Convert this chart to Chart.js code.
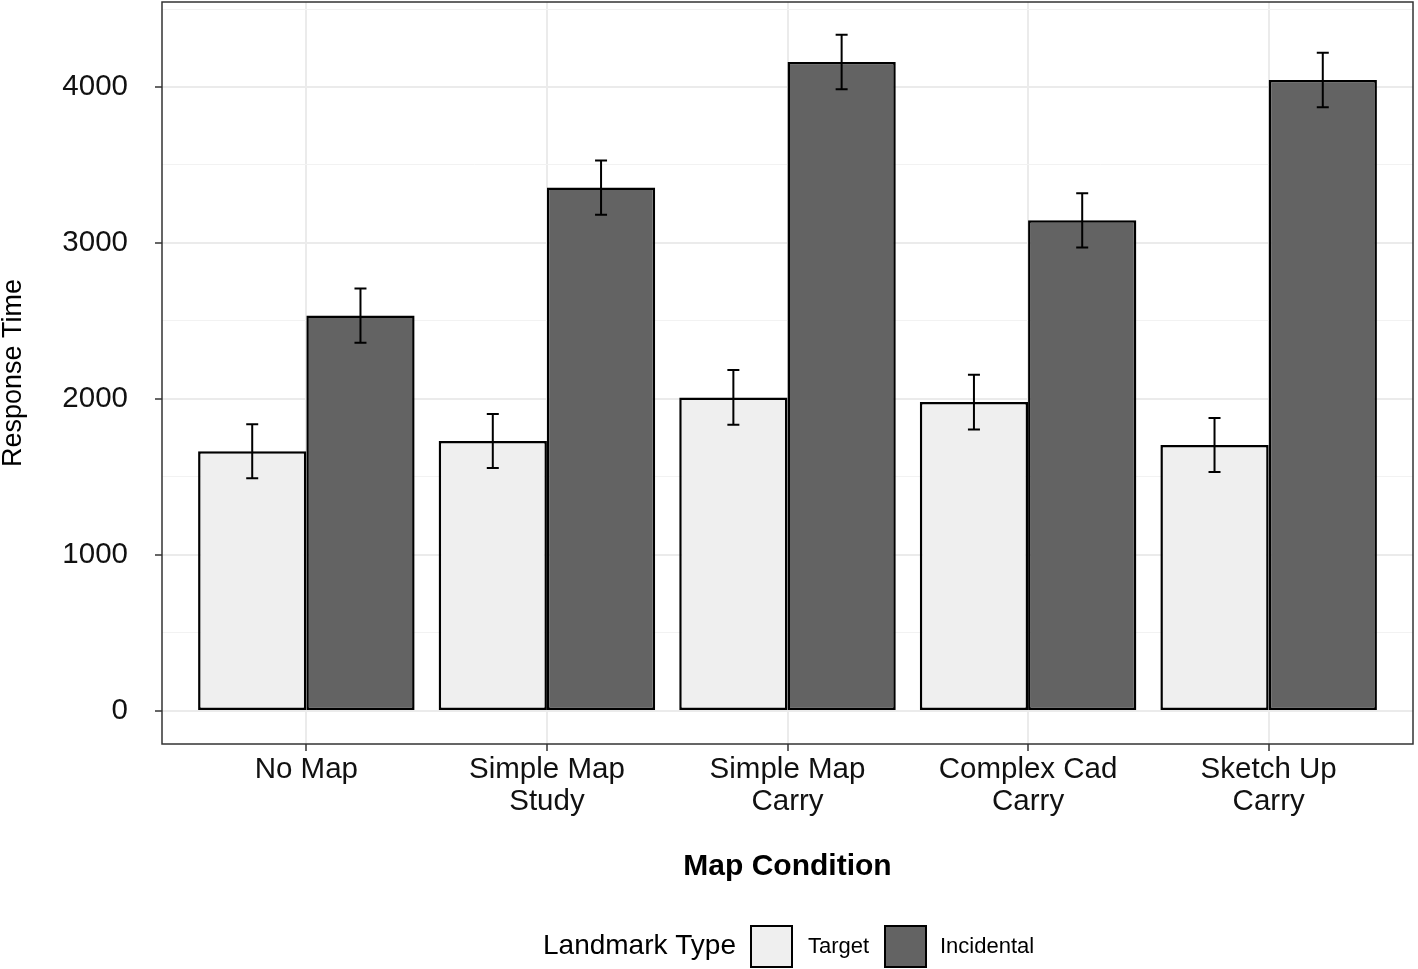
<!DOCTYPE html>
<html>
<head>
<meta charset="utf-8">
<script src="https://cdn.jsdelivr.net/npm/chart.js@4.4.1/dist/chart.umd.min.js"></script>
<style>
  html, body { margin: 0; padding: 0; background: #ffffff; }
  #wrap { width: 1418px; height: 969px; }
</style>
</head>
<body>
<div id="wrap"><canvas id="chart" width="1418" height="969"></canvas></div>
<script>
// Map conditions along the x axis (multi-line labels)
const conditions = [
  ['No Map'],
  ['Simple Map', 'Study'],
  ['Simple Map', 'Carry'],
  ['Complex Cad', 'Carry'],
  ['Sketch Up', 'Carry']
];

const seriesNames = ['Target', 'Incidental'];
const targetMeans = [1665, 1730, 2010, 1980, 1705];
const targetErrors = [173, 173, 175, 176, 173];
const incidentalMeans = [2535, 3355, 4160, 3145, 4045];
const incidentalErrors = [174, 174, 175, 174, 175];

const yMajorTicks = [0, 1000, 2000, 3000, 4000];
const yMinorTicks = [500, 1500, 2500, 3500, 4500];

const fillColors = ['#efefef', '#636363'];
const fontFamily = '"Liberation Sans", Arial, Helvetica, sans-serif';

// Turn a list of means into {x, y} points at category positions 1..n
const toPoints = (values) => values.map((v, i) => ({ x: i + 1, y: v }));

const errorsByDataset = [targetErrors, incidentalErrors];

// Draw error bars, panel border and the inline legend
const decorations = {
  id: 'decorations',
  afterDatasetsDraw(chart) {
    const { ctx, chartArea, scales } = chart;
    const yScale = scales.y;

    ctx.save();
    ctx.strokeStyle = '#000000';
    ctx.lineWidth = 2;
    chart.data.datasets.forEach((ds, di) => {
      const meta = chart.getDatasetMeta(di);
      meta.data.forEach((bar, i) => {
        const mean = ds.data[i].y;
        const err = errorsByDataset[di][i];
        const yTop = yScale.getPixelForValue(mean + err);
        const yBot = yScale.getPixelForValue(mean - err);
        const cap = 6;
        ctx.beginPath();
        ctx.moveTo(bar.x, yTop);
        ctx.lineTo(bar.x, yBot);
        ctx.moveTo(bar.x - cap, yTop);
        ctx.lineTo(bar.x + cap, yTop);
        ctx.moveTo(bar.x - cap, yBot);
        ctx.lineTo(bar.x + cap, yBot);
        ctx.stroke();
      });
    });

    // panel border
    ctx.strokeStyle = '#333333';
    ctx.lineWidth = 1.5;
    ctx.strokeRect(chartArea.left, chartArea.top, chartArea.right - chartArea.left, chartArea.bottom - chartArea.top);
    ctx.restore();
  },
  afterDraw(chart) {
    const { ctx } = chart;
    const cy = 946;
    ctx.save();
    ctx.fillStyle = '#000000';
    ctx.textBaseline = 'middle';
    ctx.textAlign = 'left';
    ctx.font = '28px ' + fontFamily;
    ctx.fillText('Landmark Type', 543, cy);

    const boxes = [751, 885];
    const labelX = [808, 940];
    ctx.font = '22px ' + fontFamily;
    seriesNames.forEach((name, i) => {
      ctx.fillStyle = fillColors[i];
      ctx.fillRect(boxes[i], cy - 20, 41, 41);
      ctx.strokeStyle = '#000000';
      ctx.lineWidth = 2;
      ctx.strokeRect(boxes[i], cy - 20, 41, 41);
      ctx.fillStyle = '#000000';
      ctx.fillText(name, labelX[i], cy + 1);
    });
    ctx.restore();
  }
};

const chartData = {
  datasets: [
    {
      label: seriesNames[0],
      data: toPoints(targetMeans),
      backgroundColor: fillColors[0],
      borderColor: '#000000',
      borderWidth: 2.5,
      borderSkipped: false
    },
    {
      label: seriesNames[1],
      data: toPoints(incidentalMeans),
      backgroundColor: fillColors[1],
      borderColor: '#000000',
      borderWidth: 2.5,
      borderSkipped: false
    }
  ]
};

new Chart(document.getElementById('chart'), {
  type: 'bar',
  data: chartData,
  plugins: [decorations],
  options: {
    responsive: false,
    animation: false,
    devicePixelRatio: 1,
    layout: { padding: { left: 0, right: 5, top: 2, bottom: 84 } },
    datasets: { bar: { categoryPercentage: 0.9, barPercentage: 1 } },
    plugins: {
      legend: { display: false },
      tooltip: { enabled: false }
    },
    scales: {
      x: {
        type: 'linear',
        min: 0.4,
        max: 5.6,
        offset: false,
        afterBuildTicks: (scale) => {
          scale.ticks = conditions.map((_, i) => ({ value: i + 1 }));
        },
        afterFit: (scale) => {
          scale.height = 141;
          scale.paddingLeft = 0;
          scale.paddingRight = 0;
        },
        ticks: {
          autoSkip: false,
          maxRotation: 0,
          padding: 3,
          color: '#111111',
          font: { family: fontFamily, size: 29.5, lineHeight: 1.085 },
          callback: (value) => conditions[Math.round(value) - 1] || ''
        },
        grid: {
          offset: false,
          color: '#ebebeb',
          lineWidth: 2,
          tickLength: 7,
          tickColor: '#333333',
          tickWidth: 1.5
        },
        border: { display: false },
        title: {
          display: true,
          text: 'Map Condition',
          color: '#000000',
          padding: 0,
          font: { family: fontFamily, size: 30, weight: 'bold', lineHeight: 1.2 }
        }
      },
      y: {
        min: -212,
        max: 4545,
        afterBuildTicks: (scale) => {
          scale.ticks = yMajorTicks.concat(yMinorTicks)
            .sort((a, b) => a - b)
            .map((v) => ({ value: v }));
        },
        afterFit: (scale) => {
          scale.width = 162;
          scale.paddingTop = 0;
          scale.paddingBottom = 0;
        },
        ticks: {
          autoSkip: false,
          padding: 27,
          color: '#111111',
          font: { family: fontFamily, size: 29.5 },
          callback: (value) => (yMajorTicks.includes(value) ? String(value) : '')
        },
        grid: {
          color: (ctx) => (yMajorTicks.includes(ctx.tick?.value) ? '#ebebeb' : '#f2f2f2'),
          lineWidth: (ctx) => (yMajorTicks.includes(ctx.tick?.value) ? 2 : 1),
          tickLength: 7,
          tickColor: (ctx) => (yMajorTicks.includes(ctx.tick?.value) ? '#333333' : 'rgba(0,0,0,0)'),
          tickWidth: 1.5
        },
        border: { display: false },
        title: {
          display: true,
          text: 'Response Time',
          color: '#000000',
          padding: 0,
          font: { family: fontFamily, size: 27, lineHeight: 1 }
        }
      }
    }
  }
});
</script>
</body>
</html>
